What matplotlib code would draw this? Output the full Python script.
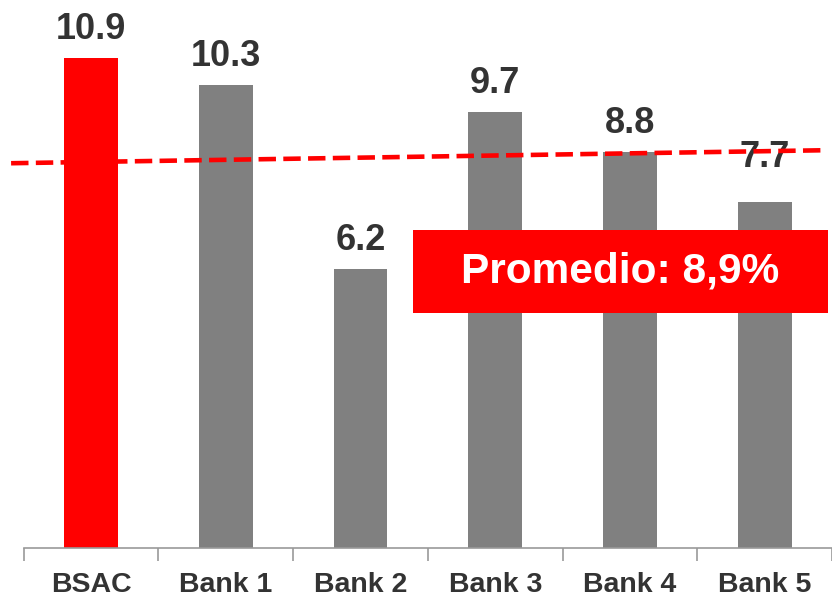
import matplotlib
matplotlib.use("Agg")
import matplotlib.pyplot as plt
from matplotlib.patches import Rectangle

categories = ["BSAC", "Bank 1", "Bank 2", "Bank 3", "Bank 4", "Bank 5"]
values = [10.9, 10.3, 6.2, 9.7, 8.8, 7.7]
value_labels = ["10.9", "10.3", "6.2", "9.7", "8.8", "7.7"]
bar_colors = ["#FF0000", "#808080", "#808080", "#808080", "#808080", "#808080"]
avg_line_x = [-0.594, 5.465]
avg_line_y = [8.56, 8.85]
avg_label = "Promedio: 8,9%"

# label offsets above bar tops (points) - layout only
label_offsets = [14, 14, 14, 14, 14, 25]

W, H = 832, 598
fig = plt.figure(figsize=(W / 100, H / 100), dpi=100)
ax = fig.add_axes([23.75 / W, 50 / H, 1 - 23.75 / W, 548 / H])
ax.set_xlim(-0.5, 5.465)
ax.set_ylim(0, 548 / 44.95)

x = list(range(len(categories)))
ax.bar(x, values, width=0.4, color=bar_colors, zorder=2)

for xi, v, lab, off in zip(x, values, value_labels, label_offsets):
    ax.annotate(lab, (xi, v), xytext=(0, off), textcoords="offset points",
                ha="center", va="baseline", fontsize=26, fontweight="bold",
                color="#333333", family="Liberation Sans", zorder=3)

ax.plot(avg_line_x, avg_line_y, color="#FF0000", lw=3.3,
        dashes=(3.8, 1.6), dash_capstyle="butt", clip_on=False, zorder=4)

for s in ["top", "right", "left"]:
    ax.spines[s].set_visible(False)
ax.spines["bottom"].set_color("#999999")
ax.spines["bottom"].set_linewidth(1.2)
ax.set_yticks([])
ax.set_xticks(x)
ax.set_xticklabels(categories, fontsize=20.5, fontweight="bold",
                   color="#333333", family="Liberation Sans")
ax.tick_params(axis="x", which="major", length=0, pad=17.5)
ax.set_xticks([i - 0.5 for i in range(len(categories) + 1)], minor=True)
ax.tick_params(axis="x", which="minor", length=9, width=1.2, color="#999999",
               direction="out")

# average box (figure pixel layout)
bx0, bx1, by0, by1 = 413, 828, 230, 313
rect = Rectangle((bx0 / W, 1 - by1 / H), (bx1 - bx0) / W, (by1 - by0) / H,
                 transform=fig.transFigure, facecolor="#FF0000",
                 edgecolor="none", zorder=5)
fig.patches.append(rect)
fig.text((bx0 + bx1) / 2 / W, 1 - (by0 + by1) / 2 / H, avg_label,
         ha="center", va="center", fontsize=30.5, fontweight="bold",
         color="white", family="Liberation Sans", zorder=6)

fig.savefig("out.png", dpi=100)
